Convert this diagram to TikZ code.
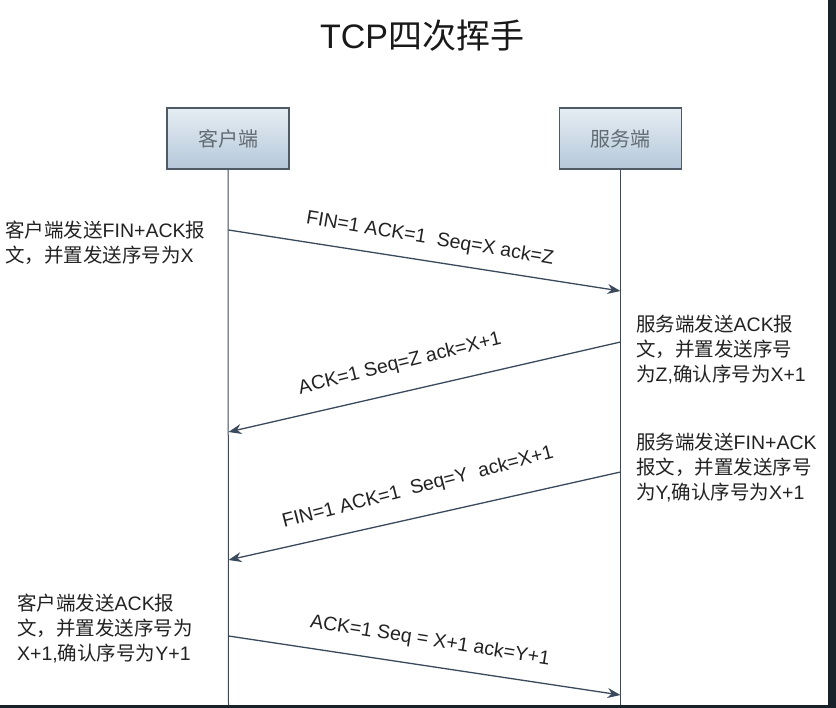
\documentclass[tikz,border=0pt]{standalone}
\usepackage{fontspec}
\setmainfont{Liberation Sans}
\newfontfamily\cjk{Noto Sans CJK SC}
\usetikzlibrary{arrows.meta}
\newcommand\zh[1]{{\cjk #1}}
\definecolor{linec}{HTML}{3A4A5C}
\definecolor{boxtop}{HTML}{E6EDF3}
\definecolor{boxbot}{HTML}{B5C8DA}
\definecolor{boxline}{HTML}{505A64}
\definecolor{txt}{HTML}{222222}
\definecolor{edge}{HTML}{17222A}
\begin{document}
\begin{tikzpicture}[x=1pt,y=-1pt,
  party/.style={draw=boxline, line width=1.2pt, top color=boxtop, bottom color=boxbot,
    minimum width=122pt, minimum height=61pt, inner sep=0pt,
    font=\cjk\fontsize{20}{24}\selectfont, text=boxline!90},
  life/.style={draw=linec, line width=1pt},
  msg/.style={draw=linec, line width=1.3pt, -{Stealth[length=13pt,width=10pt]}},
  lbl/.style={font=\fontsize{19.5}{22}\selectfont, text=txt, inner sep=0pt},
  desc/.style={font=\fontsize{19.5}{25}\selectfont, text=txt, align=left, inner sep=0pt, anchor=north west}]
\useasboundingbox (0,0) rectangle (836,708);
\fill[white] (0,0) rectangle (836,708);
\fill[edge] (828,0) rectangle (836,708);
\fill[edge] (0,705) rectangle (836,708);

\node[font=\fontsize{34}{40}\selectfont, text=black!90] (title) at (422,36) {TCP\zh{四次挥手}};

\node[party] (client) at (228,138.5) {客户端};
\node[party] (server) at (620.5,138.5) {服务端};

\coordinate (cend) at (228.5,705);
\coordinate (send) at (620.5,705);
\draw[life] (client.south) -- (cend);
\draw[life] (server.south) -- (send);

\coordinate (c1) at (228.5,230);
\coordinate (s1) at (620.5,291);
\coordinate (s2) at (620.5,342);
\coordinate (c2) at (228.5,432);
\coordinate (s3) at (620.5,472);
\coordinate (c3) at (228.5,560);
\coordinate (c4) at (228.5,636);
\coordinate (s4) at (620.5,695);

\draw[msg] (c1) -- (s1);
\draw[msg] (s2) -- (c2);
\draw[msg] (s3) -- (c3);
\draw[msg] (c4) -- (s4);

\node[lbl, rotate=-9.5] (l1) at (430,239) {FIN=1 ACK=1\ \ Seq=X ack=Z};
\node[lbl, rotate=14] (l2) at (400,364) {ACK=1 Seq=Z ack=X+1};
\node[lbl, rotate=14.5] (l3) at (418,488) {FIN=1 ACK=1\ \ Seq=Y\ \ ack=X+1};
\node[lbl, rotate=-9] (l4) at (430,641) {ACK=1 Seq = X+1 ack=Y+1};

\node[desc] (d1) at (5,221) {\zh{客户端发送}FIN+ACK\zh{报}\\\zh{文，并置发送序号为}X};
\node[desc] (d2) at (636,315) {\zh{服务端发送}ACK\zh{报}\\\zh{文，并置发送序号}\\\zh{为}Z,\zh{确认序号为}X+1};
\node[desc] (d3) at (636,433) {\zh{服务端发送}FIN+ACK\\\zh{报文，并置发送序号}\\\zh{为}Y,\zh{确认序号为}X+1};
\node[desc] (d4) at (17,594) {\zh{客户端发送}ACK\zh{报}\\\zh{文，并置发送序号为}\\X+1,\zh{确认序号为}Y+1};
\end{tikzpicture}
\end{document}
